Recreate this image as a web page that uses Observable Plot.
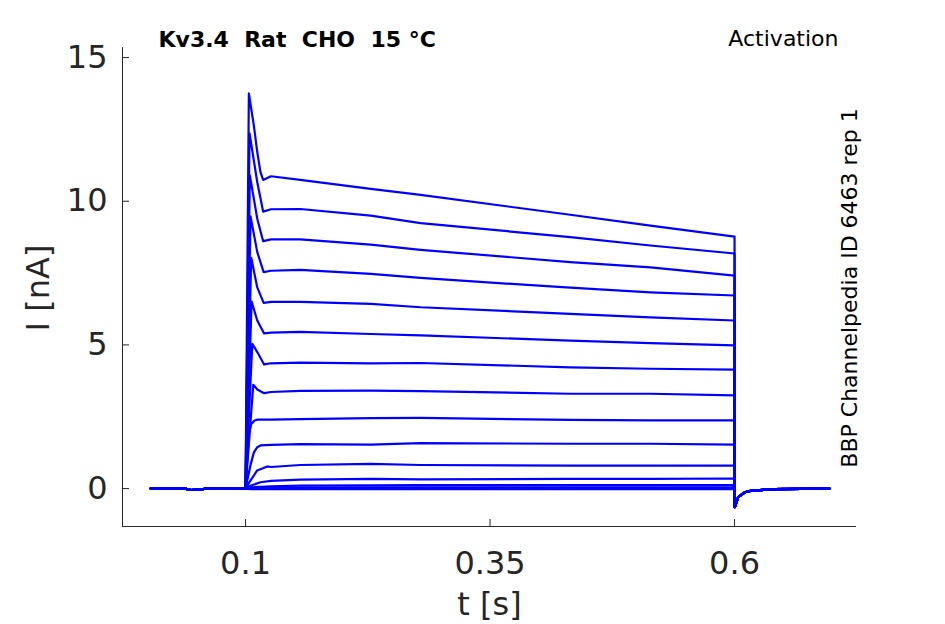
<!DOCTYPE html>
<html>
<head>
<meta charset="utf-8">
<script src="https://cdn.jsdelivr.net/npm/d3@7"></script>
<script src="https://cdn.jsdelivr.net/npm/@observablehq/plot@0.6"></script>
<style>
  html, body { margin: 0; padding: 0; background: #fff; }
  svg text { white-space: pre; }
</style>
</head>
<body>
<div id="chart"></div>
<script>
// ---- data ----
const titleText = "Kv3.4  Rat  CHO  15 °C";
const protocolText = "Activation";
const sourceText = "BBP Channelpedia ID 6463 rep 1";
const xLabel = "t [s]";
const yLabel = "I [nA]";

const xDomain = [-0.0258, 0.7247];
const yDomain = [-1.32, 15.35];
const xTicks = [0.1, 0.35, 0.6];
const yTicks = [0, 5, 10, 15];

// holding period before the step (shared by all sweeps)
const preT = [0.003, 0.038, 0.044, 0.052, 0.060, 0.100];
const preI = [0, 0, -0.05, -0.04, 0, 0];

// onset (peak / rise) of each sweep, after the step at 0.1 s
const onsetT = [
  [0.1034, 0.1085, 0.1120, 0.1153, 0.1180],
  [0.1041, 0.1120, 0.1180],
  [0.1044, 0.1120, 0.1180],
  [0.1051, 0.1120, 0.1185],
  [0.1058, 0.1120, 0.1185],
  [0.1062, 0.1120, 0.1190],
  [0.1069, 0.1120, 0.1190],
  [0.1079, 0.1120, 0.1190],
  [0.1034, 0.1058, 0.1092, 0.1126],
  [0.1050, 0.1085, 0.1120, 0.1153],
  [0.1050, 0.1119, 0.1222],
  [0.1050, 0.1153],
  [0.1050],
  [0.1050],
  [0.1050],
  [0.1050]
];
const onsetI = [
  [13.75, 12.63, 11.71, 11.01, 10.74],
  [12.36, 10.66, 9.64],
  [10.90, 9.39, 8.61],
  [9.47, 8.23, 7.53],
  [8.03, 7.00, 6.46],
  [6.51, 5.85, 5.40],
  [5.04, 4.75, 4.32],
  [3.61, 3.45, 3.32],
  [1.90, 2.25, 2.37, 2.40],
  [0.80, 1.26, 1.44, 1.50],
  [0.28, 0.63, 0.77],
  [0.10, 0.22],
  [0.04],
  [0.02],
  [0.00],
  [-0.02]
];

// sustained part of each sweep
const sweepT = [0.126, 0.156, 0.228, 0.279, 0.432, 0.514, 0.600];
const sweepI = [
  [10.87, 10.74, 10.43, 10.22, 9.53, 9.15, 8.77],
  [9.72, 9.73, 9.50, 9.24, 8.75, 8.46, 8.18],
  [8.67, 8.67, 8.49, 8.31, 7.88, 7.70, 7.41],
  [7.58, 7.61, 7.47, 7.33, 6.99, 6.83, 6.72],
  [6.50, 6.50, 6.43, 6.31, 6.08, 5.96, 5.85],
  [5.43, 5.45, 5.38, 5.33, 5.15, 5.06, 4.98],
  [4.36, 4.38, 4.36, 4.37, 4.22, 4.17, 4.14],
  [3.36, 3.40, 3.41, 3.39, 3.30, 3.30, 3.24],
  [2.40, 2.42, 2.45, 2.46, 2.39, 2.37, 2.37],
  [1.52, 1.55, 1.53, 1.58, 1.56, 1.56, 1.53],
  [0.75, 0.82, 0.86, 0.82, 0.80, 0.80, 0.80],
  [0.27, 0.31, 0.34, 0.32, 0.34, 0.34, 0.35],
  [0.08, 0.10, 0.11, 0.12, 0.12, 0.12, 0.12],
  [0.03, 0.03, 0.04, 0.04, 0.04, 0.04, 0.04],
  [0.00, 0.01, 0.01, 0.01, 0.01, 0.01, 0.01],
  [-0.02, -0.02, -0.02, -0.02, -0.02, -0.02, -0.02]
];

// tail after the step back at 0.6 s (shared by all sweeps)
const tailT = [0.6003, 0.6037, 0.6105, 0.6174, 0.640, 0.697];
const tailI = [-0.65, -0.30, -0.13, -0.07, -0.02, 0];

// ---- build the table ----
const rows = [];
sweepI.forEach((vals, k) => {
  const ts = [...preT, ...onsetT[k], ...sweepT, ...tailT];
  const is = [...preI, ...onsetI[k], ...vals, ...tailI];
  ts.forEach((t, j) => rows.push({sweep: k, t, I: is[j]}));
});

const W = 945, H = 624;
const mL = 122, mR = 89, mT = 47, mB = 98;
const innerW = W - mL - mR, innerH = H - mT - mB;
const ink = "#262626";

const chart = Plot.plot({
  width: W, height: H,
  marginLeft: mL, marginRight: mR, marginTop: mT, marginBottom: mB,
  style: {fontFamily: "DejaVu Sans", color: ink, background: "#fff", overflow: "visible"},
  x: {domain: xDomain},
  y: {domain: yDomain},
  marks: [
    Plot.line(rows, {x: "t", y: "I", z: "sweep", stroke: "#0000ff", strokeWidth: 2.2, strokeLinejoin: "round"}),
    Plot.ruleX([xDomain[0]], {stroke: ink, strokeWidth: 1}),
    Plot.ruleY([yDomain[0]], {stroke: ink, strokeWidth: 1}),
    Plot.ruleX(xTicks, {stroke: ink, strokeWidth: 1, insetTop: innerH - 7}),
    Plot.ruleY(yTicks, {stroke: ink, strokeWidth: 1, insetRight: innerW - 7}),
    Plot.axisX(xTicks, {tickSize: 0, tickPadding: 25, fontSize: 32, label: null, tickFormat: d => String(d)}),
    Plot.axisY(yTicks, {tickSize: 0, tickPadding: 15, fontSize: 32, label: null, tickFormat: d => String(d)}),
    Plot.text([xLabel], {text: d => d, frameAnchor: "bottom", dy: 78, textAnchor: "middle", lineAnchor: "middle", fontSize: 32, fill: ink}),
    Plot.text([yLabel], {text: d => d, frameAnchor: "left", dx: -84, dy: 1, rotate: -90, textAnchor: "middle", lineAnchor: "middle", fontSize: 32, fill: ink}),
    Plot.text([titleText], {text: d => d, frameAnchor: "top-left", dx: 36, dy: -8, textAnchor: "start", lineAnchor: "middle", fontSize: 22, fontWeight: "bold", fill: "#000"}),
    Plot.text([protocolText], {text: d => d, frameAnchor: "top-right", dx: -18, dy: -9, textAnchor: "end", lineAnchor: "middle", fontSize: 22, fill: "#000"}),
    Plot.text([sourceText], {text: d => d, frameAnchor: "right", dx: -7, dy: 1, rotate: -90, textAnchor: "middle", lineAnchor: "middle", fontSize: 22, fill: "#000"})
  ]
});
document.getElementById("chart").appendChild(chart);
</script>
</body>
</html>
